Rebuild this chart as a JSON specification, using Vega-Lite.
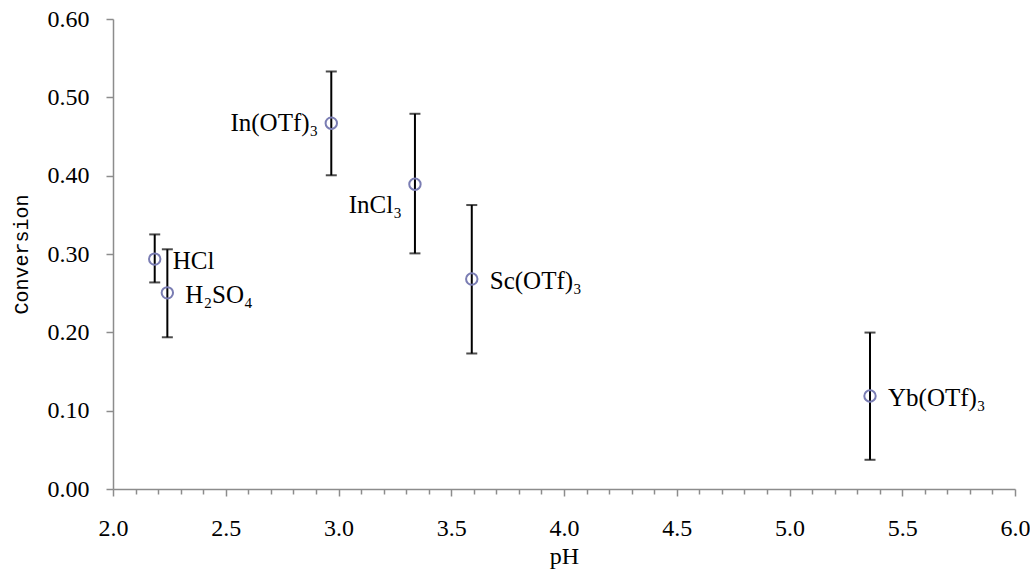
{
  "$schema": "https://vega.github.io/schema/vega-lite/v6.json",
  "autosize": "none",
  "width": 902,
  "height": 470,
  "padding": {"left": 113, "top": 19, "right": 15, "bottom": 82},
  "background": "white",
  "config": {
    "view": {"stroke": null},
    "font": "Liberation Serif",
    "axis": {
      "grid": false,
      "domainColor": "#8c8c8c",
      "domainWidth": 1.5,
      "tickColor": "#8c8c8c",
      "tickWidth": 1.5,
      "labelColor": "black",
      "labelFont": "Liberation Serif",
      "labelFontSize": 24,
      "titleColor": "black",
      "titleFontWeight": "normal"
    }
  },
  "data": {
    "values": [
      {"name": "HCl", "label": "HCl", "pH": 2.185, "conversion": 0.2935, "lo": 0.2637, "hi": 0.325},
      {"name": "H2SO4", "label": "H₂SO₄", "pH": 2.241, "conversion": 0.2504, "lo": 0.1937, "hi": 0.306},
      {"name": "In(OTf)3", "label": "In(OTf)₃", "pH": 2.968, "conversion": 0.467, "lo": 0.4005, "hi": 0.533},
      {"name": "InCl3", "label": "InCl₃", "pH": 3.339, "conversion": 0.389, "lo": 0.3008, "hi": 0.479},
      {"name": "Sc(OTf)3", "label": "Sc(OTf)₃", "pH": 3.591, "conversion": 0.268, "lo": 0.173, "hi": 0.3625},
      {"name": "Yb(OTf)3", "label": "Yb(OTf)₃", "pH": 5.357, "conversion": 0.1187, "lo": 0.0373, "hi": 0.1997}
    ]
  },
  "encoding": {
    "x": {
      "field": "pH",
      "type": "quantitative",
      "scale": {"domain": [2, 6], "nice": false, "zero": false},
      "axis": {
        "title": "pH",
        "titleFont": "Liberation Serif",
        "titleFontSize": 24,
        "titleFontWeight": "normal",
        "titlePadding": 4,
        "labelFont": "Liberation Serif",
        "labelFontSize": 24,
        "values": [2.0, 2.1, 2.2, 2.3, 2.4, 2.5, 2.6, 2.7, 2.8, 2.9, 3.0, 3.1, 3.2, 3.3, 3.4, 3.5, 3.6, 3.7, 3.8, 3.9, 4.0, 4.1, 4.2, 4.3, 4.4, 4.5, 4.6, 4.7, 4.8, 4.9, 5.0, 5.1, 5.2, 5.3, 5.4, 5.5, 5.6, 5.7, 5.8, 5.9, 6.0],
        "labelExpr": "abs(datum.value*2 - round(datum.value*2)) < 0.001 ? format(datum.value, '.1f') : ''",
        "tickSize": {"condition": {"test": "abs(datum.value*2 - round(datum.value*2)) < 0.001", "value": 7}, "value": 5},
        "labelPadding": 20,
        "labelFlush": false
      }
    }
  },
  "layer": [
    {
      "mark": {"type": "rule", "color": "black", "strokeWidth": 2},
      "encoding": {
        "y": {
          "field": "lo",
          "type": "quantitative",
          "scale": {"domain": [0, 0.6], "nice": false},
          "axis": {
            "title": "Conversion",
            "titleFont": "Liberation Mono",
            "titleFontSize": 20,
            "titleFontWeight": "normal",
            "titlePadding": 16,
            "labelFont": "Liberation Serif",
            "labelFontSize": 24,
            "values": [0, 0.05, 0.1, 0.15, 0.2, 0.25, 0.3, 0.35, 0.4, 0.45, 0.5, 0.55, 0.6],
            "labelExpr": "abs(datum.value*10 - round(datum.value*10)) < 0.001 ? format(datum.value, '.2f') : ''",
            "tickSize": {"condition": {"test": "abs(datum.value*10 - round(datum.value*10)) < 0.001", "value": 7}, "value": 5},
            "labelPadding": 17,
            "labelFlush": false
          }
        },
        "y2": {"field": "hi"}
      }
    },
    {
      "mark": {"type": "tick", "orient": "horizontal", "color": "black", "size": 11, "thickness": 2},
      "encoding": {"y": {"field": "hi", "type": "quantitative"}}
    },
    {
      "mark": {"type": "tick", "orient": "horizontal", "color": "black", "size": 11, "thickness": 2},
      "encoding": {"y": {"field": "lo", "type": "quantitative"}}
    },
    {
      "mark": {"type": "point", "shape": "circle", "filled": false, "size": 130, "stroke": "#7a7db3", "strokeWidth": 2, "opacity": 1},
      "encoding": {"y": {"field": "conversion", "type": "quantitative"}}
    },
    {
      "transform": [{"filter": "datum.name != 'In(OTf)3' && datum.name != 'InCl3'"}],
      "mark": {"type": "text", "align": "left", "baseline": "middle", "dx": 18, "dy": 2, "font": "Liberation Serif", "fontSize": 25, "color": "black"},
      "encoding": {"y": {"field": "conversion", "type": "quantitative"}, "text": {"field": "label"}}
    },
    {
      "transform": [{"filter": "datum.name == 'In(OTf)3'"}],
      "mark": {"type": "text", "align": "right", "baseline": "middle", "dx": -13, "dy": 0, "font": "Liberation Serif", "fontSize": 25, "color": "black"},
      "encoding": {"y": {"field": "conversion", "type": "quantitative"}, "text": {"field": "label"}}
    },
    {
      "transform": [{"filter": "datum.name == 'InCl3'"}],
      "mark": {"type": "text", "align": "right", "baseline": "middle", "dx": -13, "dy": 21, "font": "Liberation Serif", "fontSize": 25, "color": "black"},
      "encoding": {"y": {"field": "conversion", "type": "quantitative"}, "text": {"field": "label"}}
    }
  ]
}
